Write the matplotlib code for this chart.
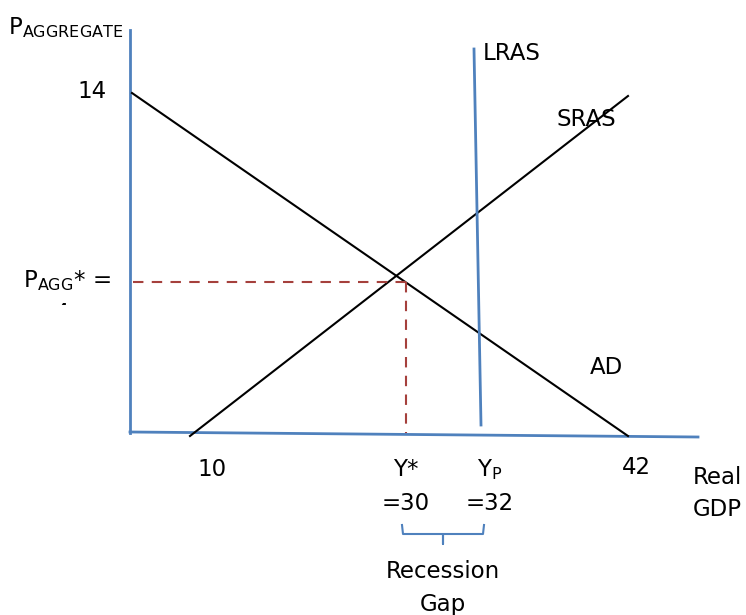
import matplotlib.pyplot as plt
from matplotlib.transforms import Bbox, TransformedBbox

# diagram laid out in pixel space of the 746x615 canvas (y grows downward)
W, H = 746, 615

# axes
y_axis_x = [130, 130]
y_axis_y = [30, 433]
x_axis_x = [130, 698]
x_axis_y = [432, 437]

# curves
ad_x = [132, 628]
ad_y = [93, 436]
sras_x = [190, 628]
sras_y = [436, 96]
lras_x = [474, 481]
lras_y = [49, 425]

# equilibrium guides
eq_h_x = [133, 406]
eq_h_y = [282, 282]
eq_v_x = [406, 406]
eq_v_y = [282, 433]

# recession gap brace
brace_x = [402, 403, 443, 443, 443, 483, 484]
brace_y = [525, 534, 534, 544, 534, 534, 525]

blue = '#4F81BD'
red = '#A5403C'

fig = plt.figure(figsize=(W / 100, H / 100), dpi=100)
ax = fig.add_axes([0, 0, 1, 1])
ax.set_xlim(0, W)
ax.set_ylim(H, 0)
ax.axis('off')

ax.plot(y_axis_x, y_axis_y, color=blue, lw=2)
ax.plot(x_axis_x, x_axis_y, color=blue, lw=2)
ax.plot(ad_x, ad_y, color='black', lw=1.5)
ax.plot(sras_x, sras_y, color='black', lw=1.5)
ax.plot(lras_x, lras_y, color=blue, lw=2)
ax.plot(eq_h_x, eq_h_y, color=red, lw=1.5, ls=(0, (5, 4)))
ax.plot(eq_v_x, eq_v_y, color=red, lw=1.5, ls=(0, (5, 4)))
ax.plot(brace_x, brace_y, color=blue, lw=1.5)

fs = 16.5
ax.text(8, 28, r'P$_{\mathregular{AGGREGATE}}$', fontsize=fs, va='center')
ax.text(92, 92, '14', fontsize=fs, ha='center', va='center')
ax.text(111, 281, r'P$_{\mathregular{AGG}}$* =', fontsize=fs, ha='right', va='center')
# the value under P_AGG* is cut off in the original, only its top shows
cut = ax.text(62, 313, '4', fontsize=fs, ha='center', va='center', clip_on=True)
cut.set_clip_box(TransformedBbox(Bbox([[40, 296], [80, 305]]), ax.transData))
ax.text(483, 53, 'LRAS', fontsize=fs, va='center')
ax.text(557, 119, 'SRAS', fontsize=fs, va='center')
ax.text(590, 368, 'AD', fontsize=fs, va='center')
ax.text(212, 470, '10', fontsize=fs, ha='center', va='center')
ax.text(636, 468, '42', fontsize=fs, ha='center', va='center')
ax.text(406, 470, 'Y*', fontsize=fs, ha='center', va='center')
ax.text(406, 503, '=30', fontsize=fs, ha='center', va='center')
ax.text(490, 470, r'Y$_{\mathregular{P}}$', fontsize=fs, ha='center', va='center')
ax.text(490, 503, '=32', fontsize=fs, ha='center', va='center')
ax.text(693, 478, 'Real', fontsize=fs, va='center')
ax.text(693, 510, 'GDP', fontsize=fs, va='center')
ax.text(443, 572, 'Recession', fontsize=fs, ha='center', va='center')
ax.text(443, 604, 'Gap', fontsize=fs, ha='center', va='center')

fig.savefig('out.png', dpi=100)
